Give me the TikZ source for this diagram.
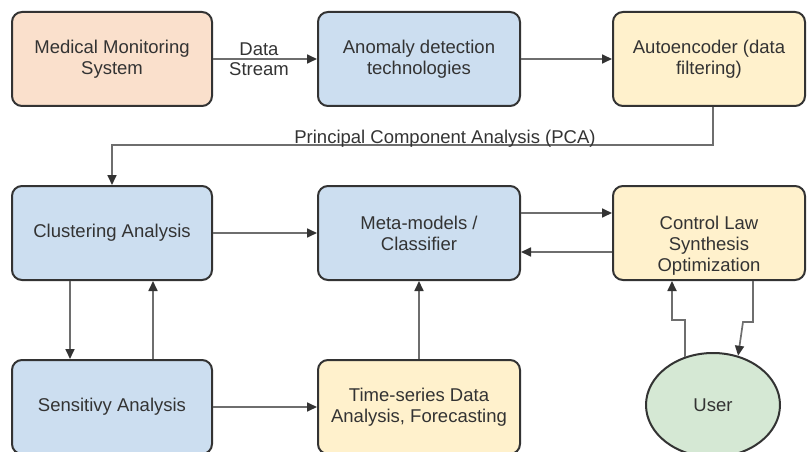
\documentclass[tikz,border=0pt]{standalone}
\usepackage{fontspec}
\setmainfont{Liberation Sans}
\usetikzlibrary{shapes.geometric, arrows.meta, positioning, calc}

\definecolor{peach}{HTML}{FAE0CC}
\definecolor{skyblue}{HTML}{CCDEF0}
\definecolor{cream}{HTML}{FFF1CC}
\definecolor{mint}{HTML}{D5E8D4}
\definecolor{edgegray}{HTML}{333333}
\definecolor{linegray}{HTML}{6E6E6E}
\definecolor{tipgray}{HTML}{333333}
\definecolor{textgray}{HTML}{333333}

\begin{document}
\begin{tikzpicture}[
    x=1pt, y=1pt,
    block/.style={rectangle, rounded corners=10pt, draw=edgegray, line width=2pt, minimum width=200pt, minimum height=94pt, align=center, text=textgray, font=\fontsize{18.5}{21}\selectfont},
    actor/.style={ellipse, draw=edgegray, line width=2pt, fill=mint, minimum width=134pt, minimum height=104pt, inner sep=0pt, text=textgray, font=\fontsize{18.5}{21}\selectfont},
    flow/.style={draw=linegray, line width=1.7pt, -{Triangle[length=10pt, width=9pt, color=tipgray]}},
    tag/.style={text=textgray, align=center, inner sep=1pt, font=\fontsize{18.5}{20}\selectfont}
]
\useasboundingbox (0,0) rectangle (807,451);

% Blocks
\node[block, fill=peach] (med) at (112, 392) {Medical Monitoring\\System};
\node[block, fill=skyblue, minimum width=202pt] (anom) at (419, 392) {Anomaly detection\\technologies};
\node[block, fill=cream, minimum width=192pt] (auto) at (709, 392) {Autoencoder (data\\filtering)};
\node[block, fill=skyblue] (clust) at (112, 218) {Clustering Analysis};
\node[block, fill=skyblue, minimum width=202pt] (meta) at (419, 218) {Meta-models /\\Classifier};
\node[block, fill=cream, minimum width=192pt] (ctrl) at (709, 218) {\rule{0pt}{38pt}Control Law\\Synthesis\\Optimization};
\node[block, fill=skyblue] (sens) at (112, 44) {Sensitivy Analysis};
\node[block, fill=cream, minimum width=202pt] (time) at (419, 44) {Time-series Data\\Analysis, Forecasting};
\node[actor] (user) at (713, 46) {User};

% Top row
\draw[flow] (med) -- (anom) node[tag, midway, xshift=-6pt] {Data\\Stream};
\draw[flow] (anom) -- (auto);

% PCA feed back to the left column
\coordinate (pcarow) at (445, 306);
\draw[flow] ([xshift=4pt]auto.south) |- (pcarow) -| (clust.north);
\node[tag, anchor=base] (pca) at (445, 308) {Principal Component Analysis (PCA)};

% Middle and bottom rows
\draw[flow] (clust) -- (meta);
\draw[flow] ([xshift=-42pt]clust.south) -- ([xshift=-42pt]sens.north);
\draw[flow] ([xshift=41pt]sens.north) -- ([xshift=41pt]clust.south);
\draw[flow] (sens) -- (time);
\draw[flow] (time) -- (meta);
\draw[flow] ([yshift=20pt]meta.east) -- ([yshift=20pt]ctrl.west);
\draw[flow] ([yshift=-19pt]ctrl.west) -- ([yshift=-19pt]meta.east);

% User loop
\coordinate (ujogup) at (672, 131);
\coordinate (ujogdn) at (743, 129);
\draw[flow] (user.120) |- (ujogup) -- (ujogup |- ctrl.south);
\draw[flow] ([xshift=44pt]ctrl.south) |- (ujogdn) -- (user.63);

\end{tikzpicture}
\end{document}
